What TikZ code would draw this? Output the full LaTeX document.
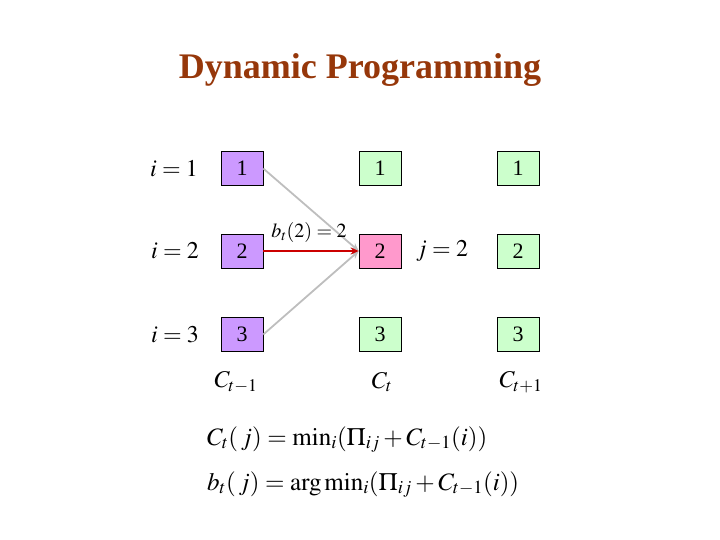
\documentclass[tikz,border=0pt]{standalone}
\usepackage{mathptmx}
\usepackage{fontspec}
\setmainfont{Liberation Serif}
\usetikzlibrary{arrows.meta}
\definecolor{titlebrown}{RGB}{150,55,10}
\definecolor{boxpurple}{RGB}{204,153,255}
\definecolor{boxpink}{RGB}{255,153,204}
\definecolor{boxgreen}{RGB}{204,255,204}
\definecolor{arrgray}{RGB}{190,190,190}
\definecolor{arrred}{RGB}{204,0,0}
\begin{document}
\begin{tikzpicture}[x=1pt,y=-1pt,
  cell/.style={draw=black,line width=0.6pt,minimum width=42pt,minimum height=34pt,inner sep=0pt,font=\fontsize{22}{26}\selectfont},
  lbl/.style={inner sep=0pt,font=\fontsize{24}{28}\selectfont},
  eqn/.style={inner sep=0pt,anchor=base west,font=\fontsize{25}{30}\selectfont},
  grayarr/.style={draw=arrgray,line width=1.8pt,-{Stealth[length=8pt,width=7pt]}},
  redarr/.style={draw=arrred,line width=1.8pt,-{Stealth[length=8pt,width=7pt]}}]
\useasboundingbox (0,0) rectangle (720,540);
\node[inner sep=0pt,text=titlebrown,font=\fontsize{36}{40}\selectfont\bfseries] (title) at (360,70) {Dynamic Programming};
% column 1
\node[cell,fill=boxpurple] (a1) at (242,168.5) {1};
\node[cell,fill=boxpurple] (a2) at (242,251) {2};
\node[cell,fill=boxpurple] (a3) at (242,334.5) {3};
% column 2
\node[cell,fill=boxgreen] (b1) at (380,168.5) {1};
\node[cell,fill=boxpink] (b2) at (380,251) {2};
\node[cell,fill=boxgreen] (b3) at (380,334.5) {3};
% column 3
\node[cell,fill=boxgreen] (c1) at (518,168.5) {1};
\node[cell,fill=boxgreen] (c2) at (518,251) {2};
\node[cell,fill=boxgreen] (c3) at (518,334.5) {3};
% row labels
\node[lbl] (i1) at (174,168.5) {$i=1$};
\node[lbl] (i2) at (175,251) {$i=2$};
\node[lbl] (i3) at (175,334.5) {$i=3$};
\node[lbl] (j2) at (442,251) {$j=2$};
% column labels
\node[lbl] (ct1) at (236,382) {$C_{t-1}$};
\node[lbl] (ct) at (382,382) {$C_{t}$};
\node[lbl] (ct2) at (521,382) {$C_{t+1}$};
% arrows
\draw[grayarr] (a1.east) -- (b2.west);
\draw[grayarr] (a3.east) -- (b2.west);
\draw[redarr] (a2.east) -- (b2.west);
\node[inner sep=0pt,font=\fontsize{20}{24}\selectfont] (bt) at (309,232) {$b_t(2)=2$};
% equations
\node[eqn] (eq1) at (207,445) {$C_t(\,j)=\min\nolimits_i(\Pi_{ij}+C_{t-1}(i))$};
\node[eqn] (eq2) at (207,490) {$b_t(\,j)=\arg\min\nolimits_i(\Pi_{ij}+C_{t-1}(i))$};
\end{tikzpicture}
\end{document}
